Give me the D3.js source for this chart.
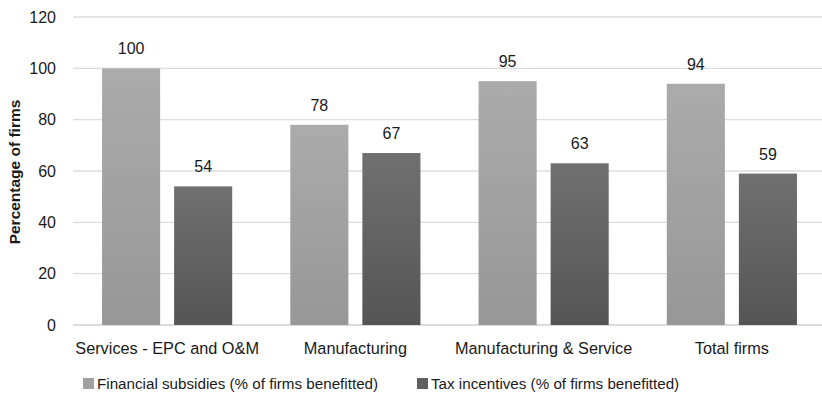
<!DOCTYPE html>
<html>
<head>
<meta charset="utf-8">
<script src="https://cdn.jsdelivr.net/npm/d3@7"></script>
<style>
  body { margin: 0; background: #fff; }
  svg text { font-family: "Liberation Sans", Arial, sans-serif; fill: #1a1a1a; }
</style>
</head>
<body>
<script>
// donnees
const categories = ["Services - EPC and O&M", "Manufacturing", "Manufacturing & Service", "Total firms"];
const seriesNames = ["Financial subsidies (% of firms benefitted)", "Tax incentives (% of firms benefitted)"];
const financial = [100, 78, 95, 94];
const tax = [54, 67, 63, 59];
const yTicks = [0, 20, 40, 60, 80, 100, 120];

const WIDTH = 822;
const HEIGHT = 396;
const margin = { left: 73, right: -4, top: 17, bottom: 71 };

const svg = d3.select("body").append("svg")
  .attr("width", WIDTH)
  .attr("height", HEIGHT);

// gradients des barres
const defs = svg.append("defs");
const grads = [["gLight", "#ababab", "#979797"], ["gDark", "#707070", "#555555"]];
grads.forEach(([id, c1, c2]) => {
  const g = defs.append("linearGradient").attr("id", id)
    .attr("x1", 0).attr("y1", 0).attr("x2", 0).attr("y2", 1);
  g.append("stop").attr("offset", "0%").attr("stop-color", c1);
  g.append("stop").attr("offset", "100%").attr("stop-color", c2);
});

const x = d3.scaleBand()
  .domain(categories)
  .range([margin.left, WIDTH - margin.right])
  .paddingInner(0).paddingOuter(0);

const x1 = d3.scaleBand()
  .domain([0, 1])
  .range([0, x.bandwidth()])
  .paddingInner(0.194).paddingOuter(0.403);

const y = d3.scaleLinear()
  .domain([0, 120])
  .range([HEIGHT - margin.bottom, margin.top]);

// lignes de grille
svg.append("g")
  .selectAll("line")
  .data(yTicks)
  .join("line")
  .attr("x1", margin.left)
  .attr("x2", WIDTH)
  .attr("y1", d => y(d))
  .attr("y2", d => y(d))
  .attr("stroke", d => d === 0 ? "#cfcfcf" : "#dcdcdc")
  .attr("stroke-width", 1.3);

// axe y (texte seulement)
const yAxis = svg.append("g")
  .attr("transform", `translate(${margin.left},0)`)
  .call(d3.axisLeft(y).tickValues(yTicks).tickSize(0).tickPadding(17));
yAxis.select(".domain").remove();
yAxis.selectAll("text")
  .style("font-size", "16px")
  .style("font-family", "Liberation Sans, Arial, sans-serif")
  .attr("fill", "#1a1a1a");

// titre de l'axe
svg.append("text")
  .attr("transform", "translate(20,172) rotate(-90)")
  .attr("text-anchor", "middle")
  .style("font-size", "15.5px")
  .style("font-weight", "bold")
  .text("Percentage of firms");

const series = [financial, tax];
const fills = ["url(#gLight)", "url(#gDark)"];

const groups = svg.append("g")
  .selectAll("g")
  .data(categories)
  .join("g")
  .attr("transform", d => `translate(${x(d)},0)`);

groups.selectAll("rect")
  .data((d, i) => series.map((s, k) => ({ k, v: s[i] })))
  .join("rect")
  .attr("x", d => x1(d.k))
  .attr("width", x1.bandwidth())
  .attr("y", d => y(d.v))
  .attr("height", d => y(0) - y(d.v))
  .attr("fill", d => fills[d.k]);

groups.selectAll("text.val")
  .data((d, i) => series.map((s, k) => ({ k, v: s[i] })))
  .join("text")
  .attr("class", "val")
  .attr("x", d => x1(d.k) + x1.bandwidth() / 2)
  .attr("y", d => y(d.v) - 14)
  .attr("text-anchor", "middle")
  .style("font-size", "16px")
  .text(d => d.v);

// etiquettes des categories
svg.append("g")
  .selectAll("text")
  .data(categories)
  .join("text")
  .attr("x", d => x(d) + x.bandwidth() / 2)
  .attr("y", 354)
  .attr("text-anchor", "middle")
  .style("font-size", "16.3px")
  .text(d => d);

// legende
const legendX = [83, 417];
const legend = svg.append("g")
  .selectAll("g")
  .data(seriesNames)
  .join("g")
  .attr("transform", (d, i) => `translate(${legendX[i]},378)`);
legend.append("rect")
  .attr("width", 11).attr("height", 11)
  .attr("fill", (d, i) => ["#a0a0a0", "#606060"][i]);
legend.append("text")
  .attr("x", 14).attr("y", 11)
  .style("font-size", "15.2px")
  .text(d => d);
</script>
</body>
</html>
